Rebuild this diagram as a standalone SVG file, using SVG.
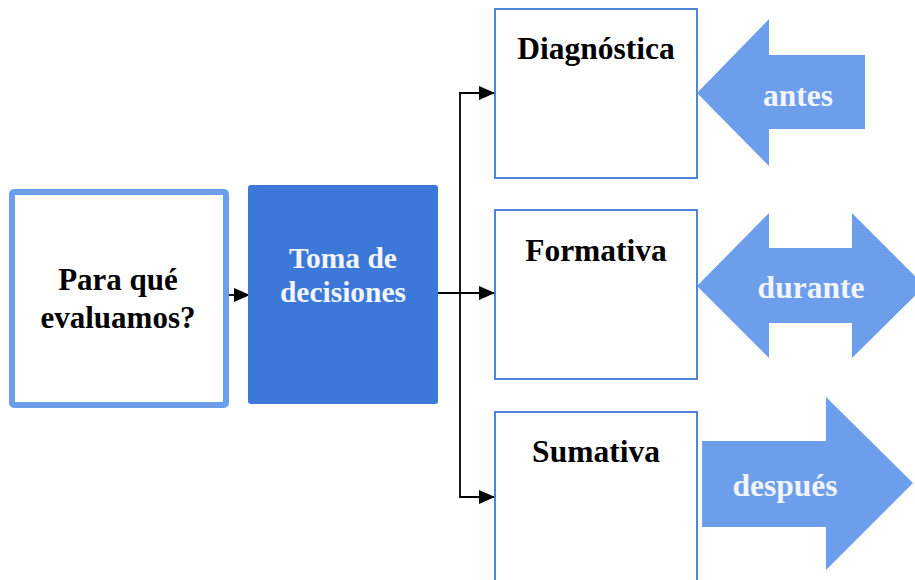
<svg xmlns="http://www.w3.org/2000/svg" width="915" height="580" viewBox="0 0 915 580">
<defs>
<style>
.t{font-family:"Liberation Serif","Times New Roman",serif;font-weight:bold;text-anchor:middle}
.blk{fill:#000}
.wht{fill:#f2f5fd}
.box{fill:#fff;stroke:#3c78d8;stroke-width:1.8}
.big{fill:#6d9eeb}
.con{fill:none;stroke:#000;stroke-width:1.8}
</style>
<marker id="ah" markerUnits="userSpaceOnUse" markerWidth="16" markerHeight="14" refX="16" refY="7" orient="auto">
<path d="M0,0 L16,7 L0,14 z" fill="#000"/>
</marker>
</defs>
<rect width="915" height="580" fill="#fff"/>
<g id="connectors">
<line class="con" x1="229" y1="295" x2="250" y2="295" marker-end="url(#ah)"/>
<line class="con" x1="438" y1="293" x2="495" y2="293" marker-end="url(#ah)"/>
<polyline class="con" points="495,93 460,93 460,497 495,497"/>
<line class="con" x1="460" y1="93" x2="495" y2="93" marker-end="url(#ah)"/>
<line class="con" x1="460" y1="497" x2="495" y2="497" marker-end="url(#ah)"/>
</g>
<g id="para-que">
<rect x="12" y="192" width="214" height="213" rx="2" fill="#fff" stroke="#6d9eeb" stroke-width="6"/>
<text class="t blk" x="118" y="290" font-size="31">Para qué</text>
<text class="t blk" x="118" y="328" font-size="31">evaluamos?</text>
</g>
<g id="toma-decisiones">
<rect x="248" y="185" width="190" height="219" rx="3" fill="#3c78d8"/>
<text class="t wht" x="343" y="268" font-size="29.5">Toma de</text>
<text class="t wht" x="343" y="302" font-size="29.5">decisiones</text>
</g>
<g id="diagnostica">
<rect class="box" x="495" y="9" width="202" height="169"/>
<text class="t blk" x="596" y="59" font-size="31.5">Diagnóstica</text>
</g>
<g id="formativa">
<rect class="box" x="495" y="210" width="202" height="169"/>
<text class="t blk" x="596" y="261" font-size="31.5">Formativa</text>
</g>
<g id="sumativa">
<rect class="box" x="495" y="412" width="202" height="172"/>
<text class="t blk" x="596" y="462" font-size="31.5">Sumativa</text>
</g>
<g id="antes">
<polygon class="big" points="697,93 769,19 769,55 865,55 865,129 769,129 769,166"/>
<text class="t wht" x="798" y="106" font-size="31.5">antes</text>
</g>
<g id="durante">
<polygon class="big" points="697,286 769,213 769,248 852,248 852,213 925,286 852,358 852,323 769,323 769,358"/>
<text class="t wht" x="811" y="298" font-size="31.5">durante</text>
</g>
<g id="despues">
<polygon class="big" points="702,441 826,441 826,397 913,483 826,570 826,527 702,527"/>
<text class="t wht" x="785" y="496" font-size="31.5">después</text>
</g>
</svg>
